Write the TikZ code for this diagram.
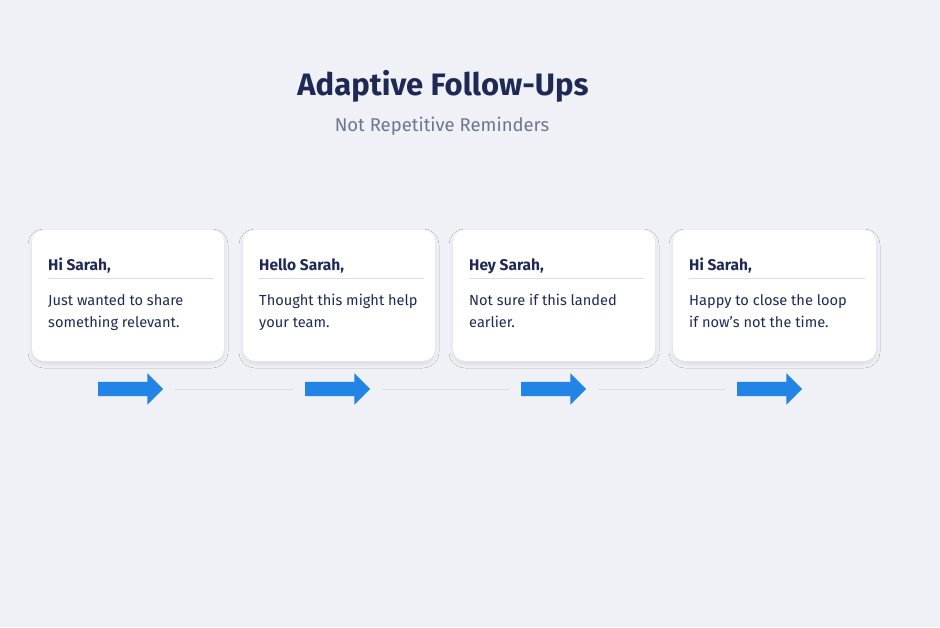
\documentclass[tikz,border=0pt]{standalone}
\usepackage{fontspec}
\setmainfont{Fira Sans}
\usetikzlibrary{shapes.arrows,shadows.blur,positioning}
\definecolor{navy}{HTML}{1E2A55}
\definecolor{subgray}{HTML}{6E7590}
\definecolor{bgcol}{HTML}{F0F1F6}
\definecolor{rule}{HTML}{DCDEE6}
\definecolor{arrowblue}{HTML}{2384E8}
\tikzset{
  card/.style={fill=white, rounded corners=12pt, blur shadow={shadow blur steps=10, shadow blur radius=4pt, shadow xshift=0pt, shadow yshift=-3pt, shadow opacity=9}},
  greet/.style={anchor=base west, font=\fontsize{15.5}{18}\selectfont\bfseries, text=navy, inner sep=0pt},
  body/.style={anchor=base west, font=\fontsize{14.6}{22}\selectfont, text=navy, inner sep=0pt, align=left},
  flow/.style={single arrow, fill=arrowblue, minimum height=65pt, minimum width=31pt, inner xsep=0pt, inner ysep=7pt, text height=0pt, text depth=0pt, single arrow head extend=8.5pt, single arrow tip angle=90},
  link/.style={draw=rule, line width=1pt}
}
\begin{document}
\begin{tikzpicture}[x=1pt,y=-1pt]
\fill[bgcol] (0,0) rectangle (940,627);
\useasboundingbox (0,0) rectangle (940,627);

\node[font=\fontsize{31}{36}\selectfont\bfseries, text=navy] (title) at (443,86) {Adaptive Follow-Ups};
\node[font=\fontsize{18.5}{22}\selectfont, text=subgray] (sub) at (442,126) {Not Repetitive Reminders};

% cards
\foreach \i/\xa/\xb/\name/\lineA/\lineB in {
  1/32/224/{Hi Sarah,}/{Just wanted to share}/{something relevant.},
  2/243/435/{Hello Sarah,}/{Thought this might help}/{your team.},
  3/453/655/{Hey Sarah,}/{Not sure if this landed}/{earlier.},
  4/673/876/{Hi Sarah,}/{Happy to close the loop}/{if now’s not the time.}}{
  \path[card] (\xa,230) rectangle (\xb,361);
  \node[greet] (g\i) at (\xa+16,270) {\name};
  \draw[rule, line width=1pt] (\xa+16,278) -- (\xb-11,278);
  \node[body] (b\i) at (\xa+16,327) {\lineA\\\lineB};
}

% arrows
\node[flow] (a1) at (127,389) {};
\node[flow] (a2) at (334,389) {};
\node[flow] (a3) at (550,389) {};
\node[flow] (a4) at (766,389) {};
\draw[link] ([xshift=12pt]a1.east) -- ([xshift=-12pt]a2.west);
\draw[link] ([xshift=12pt]a2.east) -- ([xshift=-12pt]a3.west);
\draw[link] ([xshift=12pt]a3.east) -- ([xshift=-12pt]a4.west);
\end{tikzpicture}
\end{document}
